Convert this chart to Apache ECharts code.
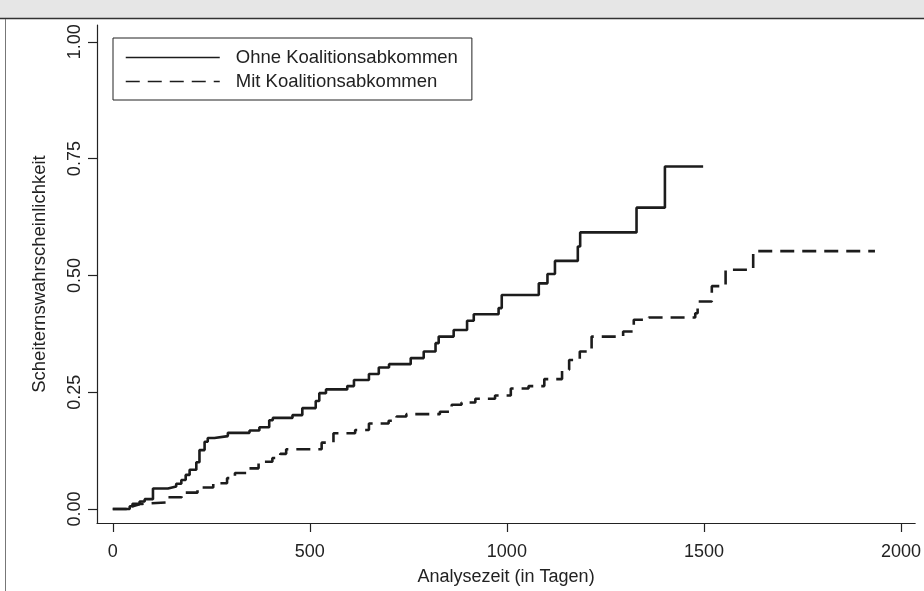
<!DOCTYPE html>
<html>
<head>
<meta charset="utf-8">
<script src="https://cdn.jsdelivr.net/npm/echarts@6/dist/echarts.min.js"></script>
<style>
  html, body { margin: 0; padding: 0; background: #fff; }
  #chart { width: 924px; height: 591px; }
</style>
</head>
<body>
<div id="chart"></div>
<script>
// Scheiternswahrscheinlichkeit (Kaplan-Meier failure)
var ohneDays = [0, 43, 51, 68, 81, 102, 140, 161, 174, 185, 195, 212, 220, 233, 241, 258, 292, 347, 372, 397,
    406, 456, 481, 515, 524, 541, 595, 612, 650, 675, 701, 756, 789, 819, 827, 865, 899, 916, 979, 987,
    1081, 1103, 1122, 1180, 1186, 1329, 1401, 1498];
var ohneProb = [0, 0.006, 0.01, 0.016, 0.021, 0.044, 0.048, 0.054, 0.062, 0.073, 0.084, 0.10, 0.126, 0.144, 0.152, 0.156, 0.163, 0.168, 0.175, 0.19,
    0.195, 0.201, 0.216, 0.231, 0.248, 0.256, 0.263, 0.276, 0.289, 0.303, 0.31, 0.323, 0.337, 0.355, 0.369, 0.383, 0.403, 0.417, 0.43, 0.458,
    0.483, 0.503, 0.531, 0.562, 0.592, 0.645, 0.733, 0.733];

var mitDays = [0, 35, 50, 75, 135, 175, 215, 255, 290, 310, 345, 370, 405, 425, 440, 530, 560, 615, 650, 700,
    720, 745, 830, 860, 885, 920, 970, 1010, 1055, 1095, 1140, 1158, 1185, 1215, 1295, 1322, 1360, 1478, 1484, 1520,
    1555, 1625, 1934];
var mitProb = [0, 0.005, 0.011, 0.014, 0.025, 0.035, 0.046, 0.055, 0.066, 0.077, 0.087, 0.101, 0.109, 0.118, 0.128, 0.142, 0.162, 0.169, 0.183, 0.189,
    0.198, 0.203, 0.208, 0.223, 0.228, 0.236, 0.243, 0.258, 0.263, 0.278, 0.298, 0.319, 0.337, 0.369, 0.38, 0.405, 0.41, 0.419, 0.444, 0.477,
    0.512, 0.552, 0.552];

var seriesNames = ['Ohne Koalitionsabkommen', 'Mit Koalitionsabkommen'];
var xTicks = [0, 500, 1000, 1500, 2000];
var yTicks = [0, 0.25, 0.5, 0.75, 1];

var fontName = '"Liberation Sans", Arial, Helvetica, sans-serif';
var ink = '#1c1c1c';

function toPairs(days, probs) {
    var out = [];
    for (var i = 0; i < days.length; i++) {
        out.push([days[i], probs[i]]);
    }
    return out;
}

var chart = echarts.init(document.getElementById('chart'), null, { renderer: 'canvas' });

var option = {
    animation: false,
    backgroundColor: '#fff',
    textStyle: { fontFamily: fontName },
    graphic: [
        // grey title strip and frame
        { type: 'rect', shape: { x: 0, y: 0, width: 924, height: 18 }, style: { fill: '#e6e6e6' }, silent: true },
        { type: 'line', shape: { x1: 0, y1: 18.5, x2: 924, y2: 18.5 }, style: { stroke: '#333', lineWidth: 1.5 }, silent: true },
        { type: 'line', shape: { x1: 5.5, y1: 19, x2: 5.5, y2: 591 }, style: { stroke: '#777', lineWidth: 1 }, silent: true }
    ],
    grid: {
        left: 97,
        right: 6,
        top: 25,
        bottom: 68
    },
    legend: {
        orient: 'vertical',
        left: 113,
        top: 38,
        padding: [10, 14, 9, 12],
        backgroundColor: '#fff',
        borderColor: '#222',
        borderWidth: 1,
        itemWidth: 94,
        itemHeight: 14,
        itemGap: 5,
        lineStyle: { width: 1.5 },
        // hide the dot that line series put in the legend icon
        itemStyle: { color: 'rgba(0,0,0,0)', opacity: 0, borderWidth: 0 },
        textStyle: {
            fontFamily: fontName,
            fontSize: 18.5,
            color: '#222',
            padding: [0, 0, 0, 11]
        },
        data: seriesNames
    },
    xAxis: {
        type: 'value',
        min: -40,
        max: 2036,
        name: 'Analysezeit (in Tagen)',
        nameLocation: 'middle',
        nameGap: 45,
        nameTextStyle: { fontFamily: fontName, fontSize: 18, color: '#222' },
        axisLine: { show: true, onZero: false, lineStyle: { color: '#222', width: 1.2 } },
        axisTick: { show: true, length: 9, lineStyle: { color: '#222', width: 1.2 }, customValues: xTicks },
        axisLabel: {
            fontFamily: fontName,
            fontSize: 18,
            color: '#222',
            margin: 20,
            customValues: xTicks,
            formatter: function (v) { return String(v); }
        },
        splitLine: { show: false }
    },
    yAxis: {
        type: 'value',
        min: -0.03,
        max: 1.036,
        name: 'Scheiternswahrscheinlichkeit',
        nameLocation: 'middle',
        nameGap: 48,
        nameTextStyle: { fontFamily: fontName, fontSize: 18.5, color: '#222' },
        axisLine: { show: true, onZero: false, lineStyle: { color: '#222', width: 1.2 } },
        axisTick: { show: true, length: 9, lineStyle: { color: '#222', width: 1.2 }, customValues: yTicks },
        axisLabel: {
            fontFamily: fontName,
            fontSize: 18,
            color: '#222',
            rotate: 90,
            margin: 13,
            customValues: yTicks,
            formatter: function (v) { return v.toFixed(2); }
        },
        splitLine: { show: false }
    },
    series: [{
        name: seriesNames[0],
        type: 'line',
        step: 'end',
        symbol: 'none',
        color: ink,
        lineStyle: { color: ink, width: 2.6, type: 'solid' },
        data: toPairs(ohneDays, ohneProb)
    }, {
        name: seriesNames[1],
        type: 'line',
        step: 'end',
        symbol: 'none',
        color: ink,
        lineStyle: { color: ink, width: 2.6, type: [14, 8], cap: 'butt' },
        data: toPairs(mitDays, mitProb)
    }]
};

chart.setOption(option);
</script>
</body>
</html>
